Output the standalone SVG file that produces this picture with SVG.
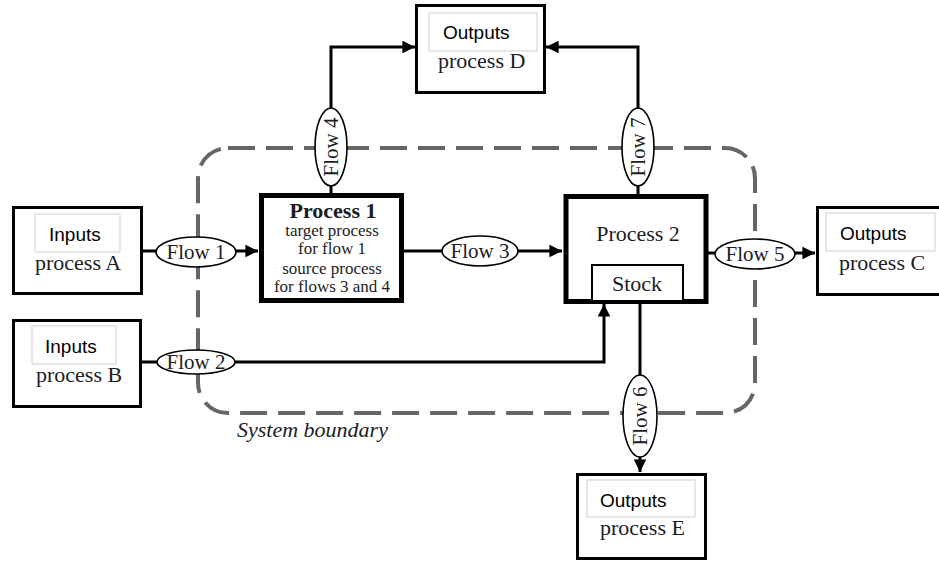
<svg xmlns="http://www.w3.org/2000/svg" width="939" height="561" viewBox="0 0 939 561">
  <defs>
    <marker id="arrow" viewBox="0 0 10 10" refX="10" refY="5" markerWidth="4.2" markerHeight="4.2" markerUnits="strokeWidth" orient="auto">
      <path d="M0,0 L10,5 L0,10 z" fill="#000"/>
    </marker>
    <style>
      .box { fill: #fff; stroke: #000; stroke-width: 3; }
      .proc { fill: #fff; stroke: #000; stroke-width: 5; }
      .tag { fill: #fff; stroke: #cfcfcf; stroke-width: 1; }
      .sans { font-family: "Liberation Sans", Arial, sans-serif; font-size: 19px; fill: #000; }
      .serif { font-family: "Liberation Serif", "Times New Roman", serif; fill: #1c1c24; }
      .name { font-size: 22px; }
      .small { font-size: 17px; }
      .flow { fill: #fff; stroke: #000; stroke-width: 1.6; }
      .ftxt { font-family: "Liberation Serif", "Times New Roman", serif; font-size: 21px; fill: #1c1c24; text-anchor: middle; }
      .wire { fill: none; stroke: #000; stroke-width: 3; }
      .boundary { fill: none; stroke: #666; stroke-width: 4; stroke-dasharray: 27 11; }
    </style>
  </defs>

  <!-- system boundary -->
  <g id="boundary">
    <rect class="boundary" x="198" y="148" width="557" height="265" rx="30" ry="30"/>
    <text class="serif" x="237" y="437" font-size="22" font-style="italic">System boundary</text>
  </g>

  <!-- connectors -->
  <g id="connectors">
    <path class="wire" d="M142,251 H258" marker-end="url(#arrow)"/>
    <path class="wire" d="M142,362 H604 V304" marker-end="url(#arrow)"/>
    <path class="wire" d="M404,251 H562" marker-end="url(#arrow)"/>
    <path class="wire" d="M331,193 V47 H415" marker-end="url(#arrow)"/>
    <path class="wire" d="M638,194 V47 H546" marker-end="url(#arrow)"/>
    <path class="wire" d="M708,253 H815" marker-end="url(#arrow)"/>
    <path class="wire" d="M640,304 V472" marker-end="url(#arrow)"/>
  </g>

  <!-- flow labels -->
  <g id="flow1">
    <ellipse class="flow" cx="196" cy="252" rx="40" ry="15"/>
    <text class="ftxt" x="196" y="259">Flow 1</text>
  </g>
  <g id="flow2">
    <ellipse class="flow" cx="196" cy="362" rx="39" ry="12"/>
    <text class="ftxt" x="196" y="369">Flow 2</text>
  </g>
  <g id="flow3">
    <ellipse class="flow" cx="480" cy="251" rx="38" ry="15"/>
    <text class="ftxt" x="480" y="258">Flow 3</text>
  </g>
  <g id="flow4">
    <ellipse class="flow" cx="331" cy="147" rx="16" ry="39"/>
    <text class="ftxt" transform="translate(338,147) rotate(-90)">Flow 4</text>
  </g>
  <g id="flow5">
    <ellipse class="flow" cx="755" cy="254" rx="40" ry="15"/>
    <text class="ftxt" x="755" y="261">Flow 5</text>
  </g>
  <g id="flow6">
    <ellipse class="flow" cx="640" cy="416" rx="17" ry="41"/>
    <text class="ftxt" transform="translate(647,416) rotate(-90)">Flow 6</text>
  </g>
  <g id="flow7">
    <ellipse class="flow" cx="638" cy="147" rx="16" ry="39"/>
    <text class="ftxt" transform="translate(645,147) rotate(-90)">Flow 7</text>
  </g>

  <!-- input processes -->
  <g id="processA">
    <rect class="box" x="13.5" y="207.5" width="128" height="86"/>
    <rect class="tag" x="35" y="214" width="85" height="38"/>
    <text class="sans" x="49" y="241">Inputs</text>
    <text class="serif name" x="35" y="270">process A</text>
  </g>
  <g id="processB">
    <rect class="box" x="13.5" y="320.5" width="127" height="86"/>
    <rect class="tag" x="32" y="326" width="84" height="38"/>
    <text class="sans" x="45" y="353">Inputs</text>
    <text class="serif name" x="36" y="382">process B</text>
  </g>

  <!-- central processes -->
  <g id="process1">
    <rect class="proc" x="261.5" y="195.5" width="140" height="105"/>
    <text class="serif" x="333" y="218" font-size="22" font-weight="bold" text-anchor="middle">Process 1</text>
    <text class="serif small" x="332" y="236" text-anchor="middle">target process</text>
    <text class="serif small" x="332" y="254" text-anchor="middle">for flow 1</text>
    <text class="serif small" x="332" y="274" text-anchor="middle">source process</text>
    <text class="serif small" x="332" y="292" text-anchor="middle">for flows 3 and 4</text>
  </g>
  <g id="process2">
    <rect class="proc" x="566" y="196.5" width="140" height="105"/>
    <text class="serif name" x="638" y="241" text-anchor="middle">Process 2</text>
    <rect x="592" y="265" width="91" height="36" fill="#fff" stroke="#000" stroke-width="2"/>
    <text class="serif name" x="637" y="291" text-anchor="middle">Stock</text>
  </g>

  <!-- output processes -->
  <g id="processD">
    <rect class="box" x="416.5" y="5.5" width="128" height="87"/>
    <rect class="tag" x="429" y="13" width="108" height="38"/>
    <text class="sans" x="443" y="39">Outputs</text>
    <text class="serif name" x="438" y="68">process D</text>
  </g>
  <g id="processC">
    <rect class="box" x="817.5" y="207.5" width="130" height="87"/>
    <rect class="tag" x="826" y="213" width="109" height="38"/>
    <text class="sans" x="840" y="240">Outputs</text>
    <text class="serif name" x="839" y="270">process C</text>
  </g>
  <g id="processE">
    <rect class="box" x="577.5" y="474.5" width="128" height="84"/>
    <rect class="tag" x="587" y="480" width="108" height="37"/>
    <text class="sans" x="600" y="507">Outputs</text>
    <text class="serif name" x="600" y="535">process E</text>
  </g>
</svg>
